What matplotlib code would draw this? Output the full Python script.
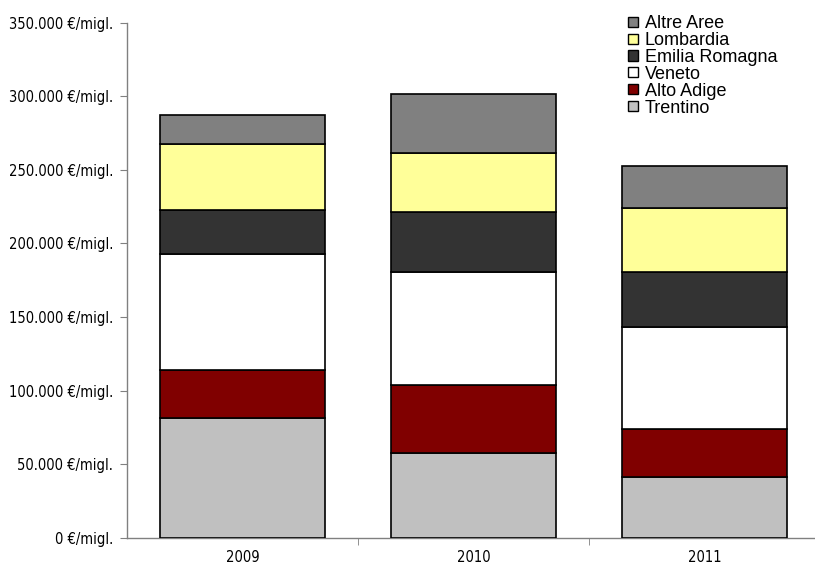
import matplotlib
matplotlib.use("Agg")
import matplotlib.pyplot as plt
from matplotlib.patches import Rectangle
from matplotlib.ticker import FuncFormatter, FixedLocator
import numpy as np

years = ["2009", "2010", "2011"]
series_names = ["Trentino", "Alto Adige", "Veneto", "Emilia Romagna", "Lombardia", "Altre Aree"]
trentino = [81.5, 57.6, 41.4]
alto_adige = [32.5, 46.3, 32.6]
veneto = [79.0, 76.6, 69.2]
emilia_romagna = [30.0, 40.6, 37.1]
lombardia = [44.5, 40.6, 43.9]
altre_aree = [20.0, 40.1, 28.7]
series_values = [trentino, alto_adige, veneto, emilia_romagna, lombardia, altre_aree]
series_colors = ["#C0C0C0", "#800000", "#FFFFFF", "#333333", "#FFFF99", "#808080"]

W, H = 815, 566
fig = plt.figure(figsize=(W / 100, H / 100), dpi=100)
ax = fig.add_axes([127 / W, 28.3 / H, 693 / W, 515 / H])

tick_font = {"family": "DejaVu Sans", "stretch": "condensed", "size": 10.5}

x = np.arange(len(years))
bottom = np.zeros(len(years))
for name, vals, col in zip(series_names, series_values, series_colors):
    v = np.array(vals) * 1000
    ax.bar(x, v, width=0.713, bottom=bottom, color=col, edgecolor="black",
           linewidth=1.2, label=name, zorder=3)
    bottom += v

ax.set_xlim(-0.5, 2.5)
ax.set_ylim(0, 350000)

ax.yaxis.set_major_locator(FixedLocator(np.arange(0, 350001, 50000)))
ax.yaxis.set_major_formatter(FuncFormatter(
    lambda val, pos: f"{int(val):,}".replace(",", ".") + " €/migl."))
ax.set_xticks(x)
ax.set_xticklabels(years)
ax.set_xticks([0.5, 1.5], minor=True)
ax.tick_params(axis="x", which="major", length=0, pad=9)
ax.tick_params(axis="x", which="minor", length=5, color="#808080", direction="out")
ax.tick_params(axis="y", length=5, color="#808080", pad=5)
for lbl in ax.get_xticklabels() + ax.get_yticklabels():
    lbl.set_fontfamily(tick_font["family"])
    lbl.set_fontstretch(tick_font["stretch"])
    lbl.set_fontsize(tick_font["size"])

for side in ("top", "right"):
    ax.spines[side].set_visible(False)
for side in ("left", "bottom"):
    ax.spines[side].set_color("#808080")
    ax.spines[side].set_linewidth(1.0)

# Legend: top entry first, drawn as small squares with labels
row_y0, row_step = 21.7, 16.9
for i, (name, col) in enumerate(zip(series_names[::-1], series_colors[::-1])):
    cy = row_y0 + i * row_step
    fig.add_artist(Rectangle(((628) / W, 1 - (cy + 5) / H), 10 / W, 10 / H,
                             transform=fig.transFigure, facecolor=col,
                             edgecolor="black", linewidth=1.0))
    fig.text(645 / W, 1 - cy / H, name, ha="left", va="center_baseline",
             fontfamily="Liberation Sans", fontsize=13)

fig.savefig("out.png", dpi=100)
